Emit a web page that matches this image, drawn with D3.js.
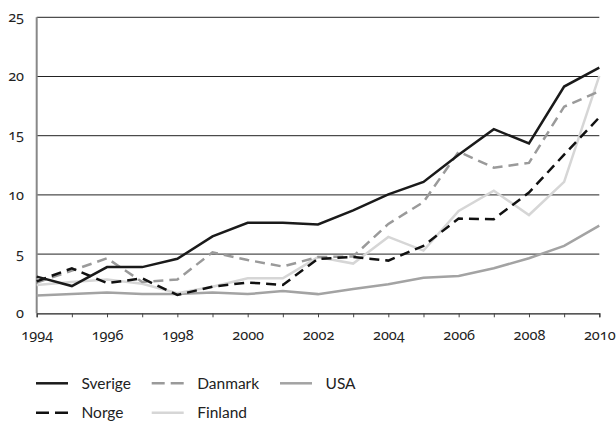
<!DOCTYPE html>
<html>
<head>
<meta charset="utf-8">
<script src="https://cdn.jsdelivr.net/npm/d3@7"></script>
<style>
  body { margin: 0; background: #fff; }
  .tick-label { font-family: "Noto Sans", sans-serif; font-size: 14.5px; fill: #222;
    font-variant-numeric: oldstyle-nums; font-feature-settings: "onum" 1; }
  .legend-label { font-family: Lato, sans-serif; font-size: 15.5px; fill: #222; }
</style>
</head>
<body>
<div id="app"></div>
<script>
const years = d3.range(1994, 2011)
const yTicks = [0, 5, 10, 15, 20, 25]
const xTicks = [1994, 1996, 1998, 2000, 2002, 2004, 2006, 2008, 2010]

const sverige = [3.1, 2.3, 3.9, 3.9, 4.6, 6.5, 7.65, 7.65, 7.5, 8.7, 10.05, 11.1, 13.4, 15.55, 14.35, 19.15, 20.75]
const norge = [2.7, 3.8, 2.55, 2.95, 1.55, 2.25, 2.6, 2.4, 4.6, 4.75, 4.45, 5.7, 8.0, 7.95, 10.2, 13.4, 16.55]
const danmark = [2.6, 3.6, 4.65, 2.65, 2.85, 5.15, 4.5, 3.95, 4.75, 4.8, 7.55, 9.4, 13.65, 12.3, 12.7, 17.45, 18.75]
const finland = [2.4, 2.65, 2.85, 2.5, 1.7, 2.25, 2.95, 2.95, 4.75, 4.2, 6.45, 5.3, 8.65, 10.35, 8.3, 11.1, 20.05]
const usa = [1.5, 1.62, 1.75, 1.62, 1.62, 1.75, 1.62, 1.88, 1.62, 2.05, 2.45, 3.0, 3.15, 3.8, 4.65, 5.7, 7.4]

const series = [
  { name: 'USA', values: usa, color: '#a3a3a3', dash: null },
  { name: 'Finland', values: finland, color: '#d6d6d6', dash: null },
  { name: 'Danmark', values: danmark, color: '#9a9a9a', dash: '10,6' },
  { name: 'Norge', values: norge, color: '#111', dash: '10,6' },
  { name: 'Sverige', values: sverige, color: '#1a1a1a', dash: null }
]

const legendRows = [
  [{ name: 'Sverige', color: '#1a1a1a', dash: null }, { name: 'Danmark', color: '#9a9a9a', dash: '13,6' }, { name: 'USA', color: '#a3a3a3', dash: null }],
  [{ name: 'Norge', color: '#111', dash: '13,6' }, { name: 'Finland', color: '#d6d6d6', dash: null }]
]

const width = 616
const height = 423
const mLeft = 36.7, mRight = 599.3, mTop = 17.3, mBottom = 313.3

const svg = d3.select('#app').append('svg')
  .attr('width', width)
  .attr('height', height)

const x = d3.scaleLinear().domain([1994, 2010]).range([mLeft, mRight])
const y = d3.scaleLinear().domain([0, 25]).range([mBottom, mTop])

// gridlines
svg.append('g')
  .selectAll('line')
  .data(yTicks.filter(d => d > 0))
  .enter()
  .append('line')
  .attr('x1', mLeft)
  .attr('x2', mRight)
  .attr('y1', d => y(d))
  .attr('y2', d => y(d))
  .attr('stroke', '#222')
  .attr('stroke-width', 1)

// y axis line
svg.append('line')
  .attr('x1', mLeft).attr('x2', mLeft)
  .attr('y1', mTop).attr('y2', mBottom)
  .attr('stroke', '#888')
  .attr('stroke-width', 2)

// y labels
svg.append('g')
  .selectAll('text')
  .data(yTicks)
  .enter()
  .append('text')
  .attr('class', 'tick-label')
  .attr('x', 24)
  .attr('y', d => y(d))
  .attr('dy', '0.32em')
  .attr('text-anchor', 'end')
  .text(d => d)

// x axis
const axisX = d3.axisBottom(x)
  .tickValues(years)
  .tickSize(4)
  .tickFormat(d => xTicks.includes(d) ? d : '')

const gx = svg.append('g')
  .attr('transform', `translate(0, ${mBottom})`)
  .call(axisX)
gx.attr('font-size', null).attr('font-family', null)
gx.select('.domain').attr('stroke', '#222').attr('stroke-width', 1.2)
gx.selectAll('.tick line').attr('stroke', '#444')
gx.selectAll('.tick text')
  .attr('class', 'tick-label')
  .attr('y', 26.5)
  .attr('dy', null)
  .attr('fill', null)

// lines
const line = d3.line()
  .x((d, i) => x(years[i]))
  .y(d => y(d))

svg.append('g')
  .selectAll('path')
  .data(series)
  .enter()
  .append('path')
  .attr('d', d => line(d.values))
  .attr('fill', 'none')
  .attr('stroke', d => d.color)
  .attr('stroke-width', 2.5)
  .attr('stroke-dasharray', d => d.dash)

// legend
const colX = [36, 151.7, 280]
const rowY = [383.3, 412.7]
legendRows.forEach((row, r) => {
  row.forEach((item, c) => {
    const g = svg.append('g')
    g.append('line')
      .attr('x1', colX[c]).attr('x2', colX[c] + 32)
      .attr('y1', rowY[r]).attr('y2', rowY[r])
      .attr('stroke', item.color)
      .attr('stroke-width', 2.5)
      .attr('stroke-dasharray', item.dash)
    g.append('text')
      .attr('class', 'legend-label')
      .attr('x', colX[c] + 45.5)
      .attr('y', rowY[r])
      .attr('dy', '0.35em')
      .text(item.name)
  })
})
</script>
</body>
</html>
